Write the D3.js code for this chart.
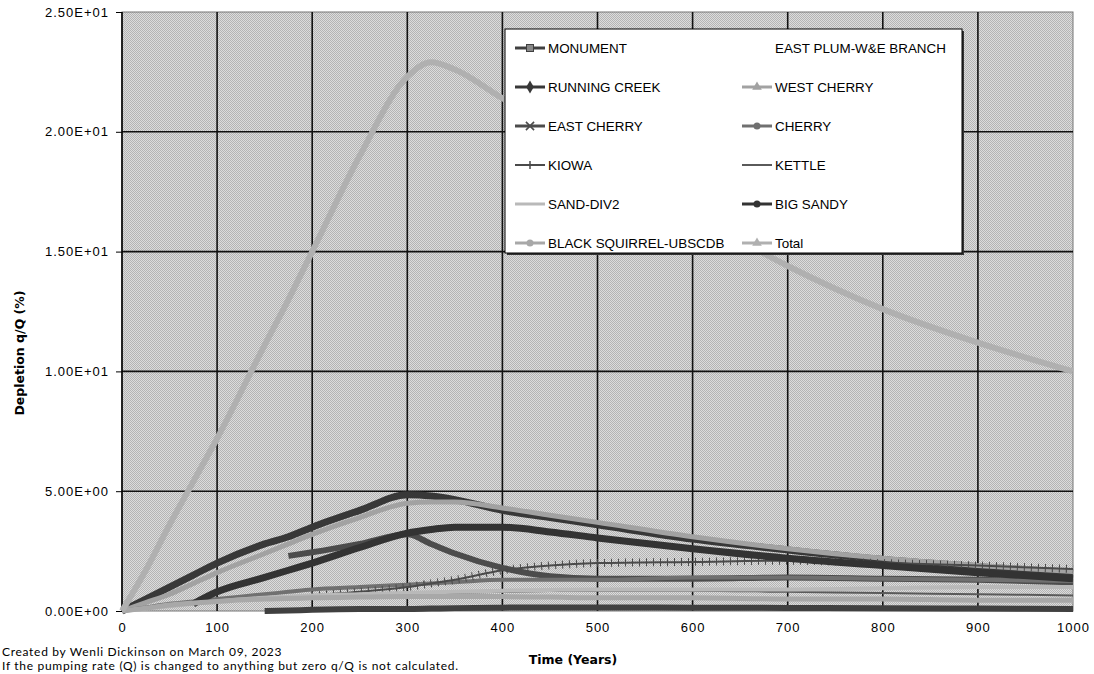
<!DOCTYPE html>
<meta charset="utf-8">
<head>
    <title>Depletion q/Q</title>
</head>
<style>
body { margin: 0; background: #fff; }
.tick text { font: 13px "Liberation Sans", Arial, sans-serif; letter-spacing: 1px; fill: #000; }
.axis path { display: none; }
.axis line { stroke: #000; }
.grid line { stroke: #111; stroke-width: 1.6px; }
.legend text { font: 13.4px "Liberation Sans", Arial, sans-serif; fill: #000; }
.title { font: bold 12.5px "DejaVu Sans", sans-serif; fill: #000; }
.note { font: 12px Lato, "Noto Sans", sans-serif; letter-spacing: 0.7px; fill: #000; }
</style>
<body>
<script src="https://cdn.jsdelivr.net/npm/d3@7/dist/d3.min.js"></script>
<script>

// years
var years = [0, 25, 50, 75, 100, 150, 175, 200, 250, 300, 325, 350, 400, 450, 500, 600, 700, 800, 900, 1000];

var monument      = [null, null, null, null, null, 0.0, 0.02, 0.05, 0.08, 0.08, 0.1, 0.12, 0.14, 0.15, 0.15, 0.14, 0.13, 0.12, 0.1, 0.08];
var eastPlum      = [0, 0, 0, 0, 0, 0, 0, 0, 0, 0, 0, 0, 0, 0, 0, 0, 0, 0, 0, 0];
var runningCreek  = [0, 0.5, 1.0, 1.5, 2.0, 2.8, 3.1, 3.5, 4.2, 4.85, 4.8, 4.65, 4.2, 3.9, 3.6, 3.0, 2.55, 2.15, 1.85, 1.6];
var westCherry    = [0, 0.35, 0.7, 1.15, 1.6, 2.4, 2.8, 3.2, 3.9, 4.5, 4.55, 4.55, 4.3, 4.0, 3.7, 3.1, 2.6, 2.2, 1.9, 1.65];
var eastCherry    = [null, null, null, null, null, null, 2.3, 2.45, 2.8, 3.2, 2.8, 2.4, 1.8, 1.45, 1.35, 1.35, 1.4, 1.35, 1.3, 1.2];
var cherry        = [0, 0.15, 0.3, 0.4, 0.5, 0.7, 0.8, 0.9, 1.0, 1.1, 1.15, 1.2, 1.3, 1.3, 1.3, 1.4, 1.4, 1.35, 1.3, 1.25];
var kiowa         = [null, null, null, null, null, null, null, 0.65, 0.8, 1.0, 1.15, 1.3, 1.7, 1.9, 2.0, 2.05, 2.1, 2.0, 1.9, 1.75];
var kettle        = [null, null, null, null, null, null, null, 0.55, 0.62, 0.7, 0.73, 0.76, 0.8, 0.83, 0.85, 0.85, 0.8, 0.75, 0.7, 0.65];
var sandDiv2      = [0, 0.1, 0.2, 0.3, 0.4, 0.55, 0.6, 0.65, 0.7, 0.75, 0.78, 0.8, 0.85, 0.88, 0.9, 0.9, 0.9, 0.95, 1.0, 1.0];
var bigSandy      = [null, null, null, 0.3, 0.8, 1.4, 1.7, 2.0, 2.65, 3.25, 3.4, 3.5, 3.5, 3.3, 3.05, 2.6, 2.2, 1.9, 1.6, 1.35];
var blackSquirrel = [0, 0.12, 0.25, 0.33, 0.4, 0.5, 0.52, 0.55, 0.58, 0.6, 0.6, 0.6, 0.6, 0.58, 0.55, 0.55, 0.5, 0.5, 0.45, 0.45];
var total         = [0, 1.7, 3.6, 5.4, 7.2, 11.1, 13.0, 15.0, 19.0, 22.3, 22.9, 22.6, 21.4, 20.3, 19.0, 16.6, 14.4, 12.6, 11.2, 10.0];

var xTicks = [0, 100, 200, 300, 400, 500, 600, 700, 800, 900, 1000];
var yTicks = [0, 5, 10, 15, 20, 25];

var series = [
  {name: "MONUMENT", values: monument, color: "#404040", width: 6, marker: "square"},
  {name: "EAST PLUM-W&E BRANCH", values: eastPlum, color: "none", width: 0, marker: "none"},
  {name: "RUNNING CREEK", values: runningCreek, color: "#383838", width: 7, marker: "diamond"},
  {name: "WEST CHERRY", values: westCherry, color: "#a2a2a2", width: 5, marker: "triangle"},
  {name: "EAST CHERRY", values: eastCherry, color: "#4c4c4c", width: 6, marker: "cross"},
  {name: "CHERRY", values: cherry, color: "#707070", width: 4, marker: "circle"},
  {name: "KIOWA", values: kiowa, color: "#4a4a4a", width: 2, marker: "tick"},
  {name: "KETTLE", values: kettle, color: "#5a5a5a", width: 2, marker: "none"},
  {name: "SAND-DIV2", values: sandDiv2, color: "#b9b9b9", width: 4, marker: "none"},
  {name: "BIG SANDY", values: bigSandy, color: "#333333", width: 7, marker: "circle"},
  {name: "BLACK SQUIRREL-UBSCDB", values: blackSquirrel, color: "#a8a8a8", width: 5, marker: "circle"},
  {name: "Total", values: total, color: "#b0b0b0", width: 6, marker: "triangle"}
];

var W = 1094, H = 674;
var plot = {left: 122, right: 1073, top: 12, bottom: 611};

var x = d3.scaleLinear().domain([0, 1000]).range([plot.left, plot.right]);
var y = d3.scaleLinear().domain([0, 25]).range([plot.bottom, plot.top]);

var svg = d3.select("body").append("svg")
    .attr("width", W)
    .attr("height", H);

// fine checker grey plot fill
var defs = svg.append("defs");
var pat = defs.append("pattern")
    .attr("id", "hatch")
    .attr("width", 2).attr("height", 2)
    .attr("patternUnits", "userSpaceOnUse");
pat.append("rect").attr("width", 2).attr("height", 2).attr("fill", "#dcdcdc");
pat.append("rect").attr("width", 1).attr("height", 1).attr("fill", "#b4b4b4");
pat.append("rect").attr("x", 1).attr("y", 1).attr("width", 1).attr("height", 1).attr("fill", "#b4b4b4");

svg.append("rect")
    .attr("x", plot.left).attr("y", plot.top)
    .attr("width", plot.right - plot.left)
    .attr("height", plot.bottom - plot.top)
    .attr("fill", "url(#hatch)")
    .attr("stroke", "#777")
    .attr("stroke-width", 1);

// grid
svg.append("g")
    .attr("class", "grid")
    .selectAll("line.h")
    .data(yTicks.slice(1, -1))
  .enter().append("line")
    .attr("x1", plot.left).attr("x2", plot.right)
    .attr("y1", function(d) { return y(d); })
    .attr("y2", function(d) { return y(d); });

svg.append("g")
    .attr("class", "grid")
    .selectAll("line.v")
    .data(xTicks.slice(1, -1))
  .enter().append("line")
    .attr("y1", plot.top).attr("y2", plot.bottom)
    .attr("x1", function(d) { return x(d); })
    .attr("x2", function(d) { return x(d); });

// axes
function sci(v) {
  if (v === 0) return "0.00E+00";
  var e = Math.floor(Math.log10(v));
  var m = v / Math.pow(10, e);
  return m.toFixed(2) + "E" + (e < 0 ? "-" : "+") + String(Math.abs(e)).padStart(2, "0");
}

svg.append("g")
    .attr("class", "axis")
    .attr("transform", "translate(" + plot.left + ",0)")
    .call(d3.axisLeft(y).tickValues(yTicks).tickFormat(sci).tickSize(6).tickPadding(7));

svg.append("g")
    .attr("class", "axis")
    .attr("transform", "translate(0," + plot.bottom + ")")
    .call(d3.axisBottom(x).tickValues(xTicks).tickFormat(d3.format("d")).tickSize(0).tickPadding(12));

svg.append("line")
    .attr("x1", plot.left).attr("x2", plot.left)
    .attr("y1", plot.top).attr("y2", plot.bottom)
    .attr("stroke", "#000").attr("stroke-width", 1.6);

// series
var line = d3.line()
    .defined(function(d) { return d[1] != null; })
    .x(function(d) { return x(d[0]); })
    .y(function(d) { return y(d[1]); })
    .curve(d3.curveMonotoneX);

series.forEach(function(s) {
  var pts = years.map(function(t, i) { return [t, s.values[i]]; });
  svg.append("path")
      .datum(pts)
      .attr("fill", "none")
      .attr("stroke", s.color)
      .attr("stroke-width", s.width)
      .attr("stroke-linejoin", "round")
      .attr("d", line);
  if (s.marker === "tick") {
    svg.append("path")
        .datum(pts)
        .attr("fill", "none")
        .attr("stroke", s.color)
        .attr("stroke-width", 8)
        .attr("stroke-dasharray", "1,6")
        .attr("d", line);
  }
});

// legend
var leg = svg.append("g").attr("class", "legend");
leg.append("rect")
    .attr("x", 507).attr("y", 31).attr("width", 457).attr("height", 224)
    .attr("fill", "#333");
leg.append("rect")
    .attr("x", 505).attr("y", 29).attr("width", 457).attr("height", 224)
    .attr("fill", "#fff").attr("stroke", "#000").attr("stroke-width", 1);

function drawMarker(g, type, cx, cy, color) {
  if (type === "square") {
    g.append("rect").attr("x", cx - 3.5).attr("y", cy - 3.5).attr("width", 7).attr("height", 7)
      .attr("fill", "#888").attr("stroke", color).attr("stroke-width", 1);
  } else if (type === "diamond") {
    g.append("path").attr("d", d3.symbol(d3.symbolDiamond, 50)()).attr("transform", "translate(" + cx + "," + cy + ")")
      .attr("fill", color);
  } else if (type === "triangle") {
    g.append("path").attr("d", d3.symbol(d3.symbolTriangle, 40)()).attr("transform", "translate(" + cx + "," + cy + ")")
      .attr("fill", color);
  } else if (type === "circle") {
    g.append("circle").attr("cx", cx).attr("cy", cy).attr("r", 3.5).attr("fill", color);
  } else if (type === "cross") {
    g.append("path").attr("d", d3.symbol(d3.symbolX, 45)()).attr("transform", "translate(" + cx + "," + cy + ")")
      .attr("stroke", color).attr("stroke-width", 1.6).attr("fill", "none");
  } else if (type === "tick") {
    g.append("line").attr("x1", cx).attr("x2", cx).attr("y1", cy - 4).attr("y2", cy + 4)
      .attr("stroke", color).attr("stroke-width", 1.5);
  }
}

series.forEach(function(s, i) {
  var col = i % 2, row = Math.floor(i / 2);
  var cy = 48 + row * 39;
  var x0 = col === 0 ? 515 : 742;
  var g = leg.append("g");
  if (s.color !== "none") {
    g.append("line")
        .attr("x1", x0).attr("x2", x0 + 30)
        .attr("y1", cy).attr("y2", cy)
        .attr("stroke", s.color)
        .attr("stroke-width", Math.min(s.width, 3));
    drawMarker(g, s.marker, x0 + 15, cy, s.color);
  }
  g.append("text")
      .attr("x", x0 + 33)
      .attr("y", cy)
      .attr("dy", "0.36em")
      .text(s.name);
});

// titles
svg.append("text")
    .attr("class", "title")
    .attr("text-anchor", "middle")
    .attr("transform", "translate(24,353) rotate(-90)")
    .text("Depletion q/Q (%)");

svg.append("text")
    .attr("class", "title")
    .attr("text-anchor", "middle")
    .attr("x", 573).attr("y", 664)
    .text("Time (Years)");

svg.append("text")
    .attr("class", "note")
    .attr("x", 2).attr("y", 656)
    .text("Created by Wenli Dickinson on March 09, 2023");

svg.append("text")
    .attr("class", "note")
    .attr("x", 2).attr("y", 670)
    .text("If the pumping rate (Q) is changed to anything but zero q/Q is not calculated.");

</script>
</body>
